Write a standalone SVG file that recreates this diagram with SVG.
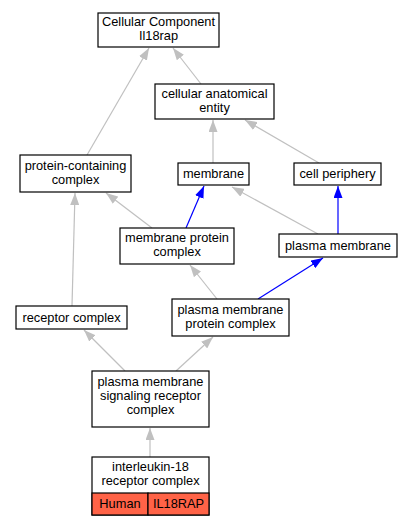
<svg xmlns="http://www.w3.org/2000/svg" width="413" height="525" viewBox="0 0 413 525">
<defs>
<marker id="ag" viewBox="0 0 12 9" refX="12" refY="4.5" markerWidth="12" markerHeight="9" markerUnits="userSpaceOnUse" orient="auto"><path d="M0,0 L12,4.5 L0,9 Z" fill="#c0c0c0"/></marker>
<marker id="ab" viewBox="0 0 12 9" refX="12" refY="4.5" markerWidth="12" markerHeight="9" markerUnits="userSpaceOnUse" orient="auto"><path d="M0,0 L12,4.5 L0,9 Z" fill="#0000ff"/></marker>
</defs>
<style>
.n rect{fill:#fff;stroke:#000;stroke-width:1.2}
text{font-family:"Liberation Sans",Arial,sans-serif;font-size:12.8px;text-anchor:middle;fill:#000}
.g{stroke:#c0c0c0;stroke-width:1.2;fill:none;marker-end:url(#ag)}
.b{stroke:#0000ff;stroke-width:1.2;fill:none;marker-end:url(#ab)}
</style>
<rect width="413" height="525" fill="#fff"/>
<g id="edges">
<line class="g" x1="87" y1="155" x2="149" y2="48"/>
<line class="g" x1="201" y1="84" x2="173" y2="48"/>
<line class="g" x1="213" y1="163" x2="213" y2="120"/>
<line class="g" x1="319" y1="163" x2="245" y2="120"/>
<line class="g" x1="152" y1="228" x2="106" y2="193"/>
<line class="b" x1="186" y1="228" x2="204" y2="186"/>
<line class="g" x1="318" y1="234" x2="232" y2="187"/>
<line class="b" x1="338" y1="234" x2="338" y2="186"/>
<line class="g" x1="72" y1="306" x2="75" y2="193"/>
<line class="g" x1="217" y1="299" x2="190" y2="265"/>
<line class="b" x1="258" y1="299" x2="323" y2="258"/>
<line class="g" x1="125" y1="371" x2="84" y2="330"/>
<line class="g" x1="176" y1="371" x2="213" y2="337"/>
<line class="g" x1="150" y1="457" x2="150" y2="428"/>
</g>
<g id="n_cc" class="n"><rect x="98" y="13" width="121" height="34"/><text x="158.5" y="26">Cellular Component</text><text x="158.5" y="40">Il18rap</text></g>
<g id="n_cae" class="n"><rect x="155" y="84" width="119" height="35"/><text x="214.5" y="98">cellular anatomical</text><text x="214.5" y="112">entity</text></g>
<g id="n_pcc" class="n"><rect x="20" y="155" width="111" height="37"/><text x="75.5" y="170">protein-containing</text><text x="75.5" y="184">complex</text></g>
<g id="n_mem" class="n"><rect x="178" y="163" width="71" height="22"/><text x="213.5" y="178">membrane</text></g>
<g id="n_cp" class="n"><rect x="294" y="163" width="87" height="22"/><text x="337.5" y="178">cell periphery</text></g>
<g id="n_mpc" class="n"><rect x="120" y="228" width="114" height="36"/><text x="177" y="242">membrane protein</text><text x="177" y="256">complex</text></g>
<g id="n_pm" class="n"><rect x="279" y="234" width="118" height="23"/><text x="338" y="250">plasma membrane</text></g>
<g id="n_rc" class="n"><rect x="16" y="306" width="111" height="23"/><text x="71.5" y="322">receptor complex</text></g>
<g id="n_pmpc" class="n"><rect x="172" y="299" width="117" height="37"/><text x="230.5" y="314">plasma membrane</text><text x="230.5" y="328">protein complex</text></g>
<g id="n_pmsrc" class="n"><rect x="92" y="371" width="117" height="56"/><text x="150.5" y="386">plasma membrane</text><text x="150.5" y="400">signaling receptor</text><text x="150.5" y="414">complex</text></g>
<g id="n_il18" class="n"><rect x="92" y="457" width="117" height="58"/><text x="150.5" y="471">interleukin-18</text><text x="150.5" y="485">receptor complex</text>
<rect x="92" y="493" width="56" height="22" style="fill:#ff6347"/><rect x="148" y="493" width="61" height="22" style="fill:#ff6347"/>
<text x="120" y="508">Human</text><text x="178.5" y="508">IL18RAP</text></g>
</svg>
